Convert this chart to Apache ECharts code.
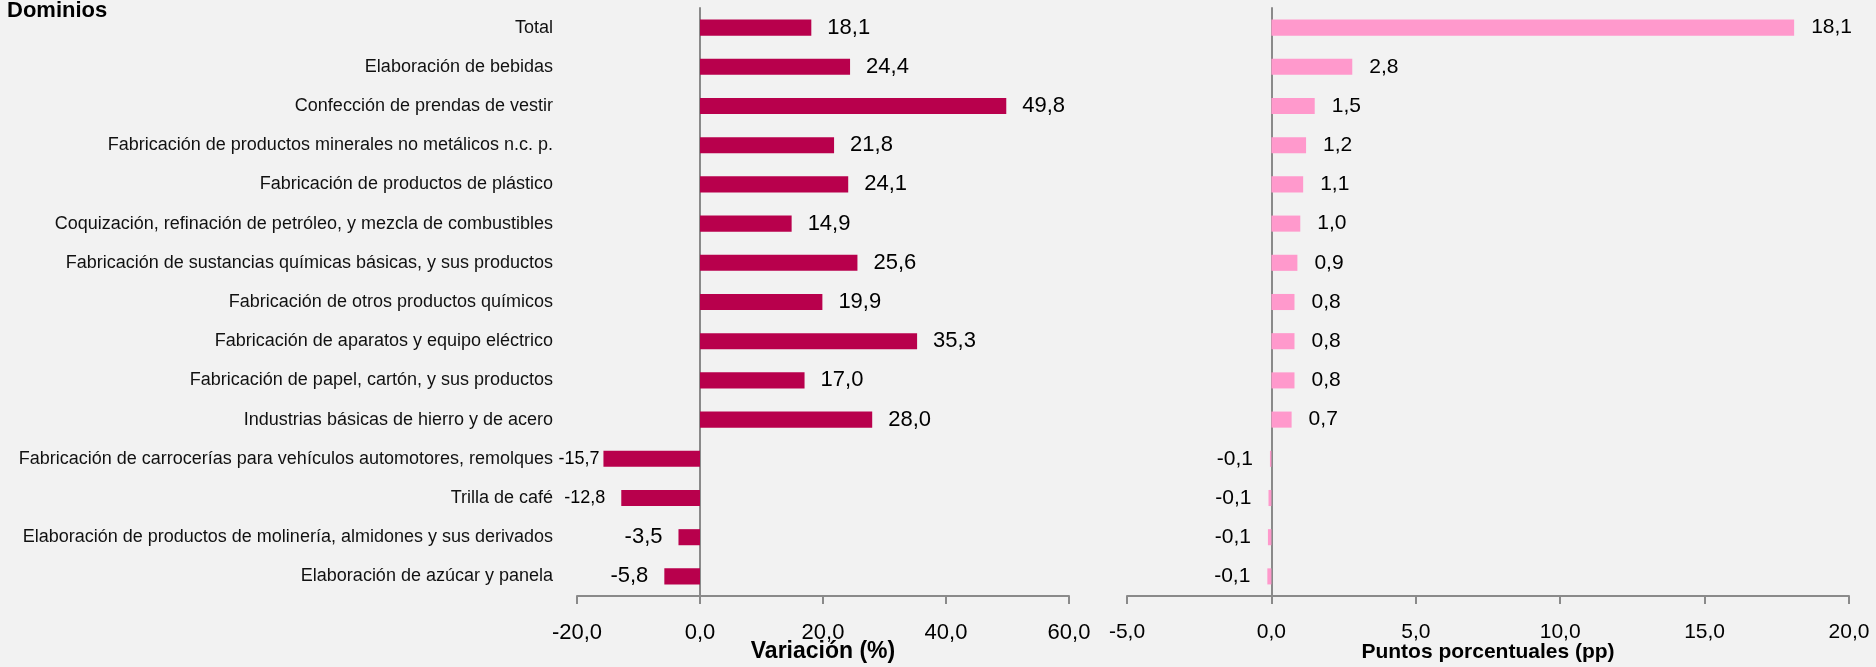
<!DOCTYPE html>
<html><head><meta charset="utf-8">
<script src="https://cdn.jsdelivr.net/npm/echarts@6/dist/echarts.min.js"></script>
<style>html,body{margin:0;padding:0;background:#F2F2F2}#c{width:1876px;height:667px}</style>
</head><body><div id="c"></div>
<script>
const categories = [
  "Total",
  "Elaboración de bebidas",
  "Confección de prendas de vestir",
  "Fabricación de productos minerales no metálicos n.c. p.",
  "Fabricación de productos de plástico",
  "Coquización, refinación de petróleo, y mezcla de combustibles",
  "Fabricación de sustancias químicas básicas, y sus productos",
  "Fabricación de otros productos químicos",
  "Fabricación de aparatos y equipo eléctrico",
  "Fabricación de papel, cartón, y sus productos",
  "Industrias básicas de hierro y de acero",
  "Fabricación de carrocerías para vehículos automotores, remolques",
  "Trilla de café",
  "Elaboración de productos de molinería, almidones y sus derivados",
  "Elaboración de azúcar y panela"
];
const variacion = [18.1, 24.4, 49.8, 21.8, 24.1, 14.9, 25.6, 19.9, 35.3, 17.0, 28.0, -15.7, -12.8, -3.5, -5.8];
const contribucion = [18.1, 2.8, 1.5, 1.2, 1.1, 1.0, 0.9, 0.8, 0.8, 0.8, 0.7, -0.05, -0.1, -0.12, -0.14];
const variacionAxis = { min: -20, max: 60, interval: 20 };
const contribucionAxis = { min: -5, max: 20, interval: 5 };
const titleText = "Dominios";
const variacionName = "Variación (%)";
const contribucionName = "Puntos porcentuales (pp)";

const FONT = "'Liberation Sans', Arial, sans-serif";
const fmt = v => v.toFixed(1).replace('.', ',');

const leftData = variacion.map(v => ({
  value: v,
  label: {
    position: v < 0 ? 'left' : 'right',
    fontSize: v < -10 ? 18 : 22,
    distance: v < -15 ? 4 : 16
  }
}));
const rightData = contribucion.map(v => ({
  value: v,
  label: { position: v < 0 ? 'left' : 'right' }
}));

const axisLineStyle = { color: '#8A8A8A', width: 2 };

const chart = echarts.init(document.getElementById('c'));
chart.setOption({
  backgroundColor: '#F2F2F2',
  animation: false,
  title: {
    text: titleText, left: 7, top: 0, padding: 0,
    textStyle: { fontFamily: FONT, fontWeight: 'bold', fontSize: 22, color: '#000' }
  },
  grid: [
    { left: 577, right: 807, top: 8, bottom: 71, outerBoundsMode: 'none', containLabel: false },
    { left: 1127, right: 27, top: 8, bottom: 71, outerBoundsMode: 'none', containLabel: false }
  ],
  xAxis: [
    {
      gridIndex: 0, type: 'value', ...variacionAxis,
      name: variacionName, nameLocation: 'middle', nameGap: 44, nameMoveOverlap: false,
      nameTextStyle: { fontFamily: FONT, fontWeight: 'bold', fontSize: 23, color: '#000' },
      axisLine: { show: true, onZero: false, lineStyle: axisLineStyle },
      axisTick: { show: true, length: 8, lineStyle: axisLineStyle },
      splitLine: { show: false },
      axisLabel: { formatter: fmt, fontFamily: FONT, fontSize: 22, color: '#000', margin: 26 }
    },
    {
      gridIndex: 1, type: 'value', ...contribucionAxis,
      name: contribucionName, nameLocation: 'middle', nameGap: 46, nameMoveOverlap: false,
      nameTextStyle: { fontFamily: FONT, fontWeight: 'bold', fontSize: 21, color: '#000' },
      axisLine: { show: true, onZero: false, lineStyle: axisLineStyle },
      axisTick: { show: true, length: 8, lineStyle: axisLineStyle },
      splitLine: { show: false },
      axisLabel: { formatter: fmt, fontFamily: FONT, fontSize: 21, color: '#000', margin: 26 }
    }
  ],
  yAxis: [
    {
      gridIndex: 0, type: 'category', data: categories, inverse: true,
      axisLine: { show: true, onZero: true, lineStyle: axisLineStyle },
      axisTick: { show: false },
      axisLabel: { fontFamily: FONT, fontSize: 18, color: '#111', margin: 24 }
    },
    {
      gridIndex: 1, type: 'category', data: categories, inverse: true,
      axisLine: { show: true, onZero: true, lineStyle: axisLineStyle },
      axisTick: { show: false },
      axisLabel: { show: false }
    }
  ],
  series: [
    {
      type: 'bar', xAxisIndex: 0, yAxisIndex: 0, data: leftData, barWidth: '41%',
      itemStyle: { color: '#B8004C' },
      label: { show: true, formatter: p => fmt(p.value), fontFamily: FONT, fontSize: 22, color: '#000', distance: 16 }
    },
    {
      type: 'bar', xAxisIndex: 1, yAxisIndex: 1, data: rightData, barWidth: '41%',
      itemStyle: { color: '#FF99CC' },
      label: { show: true, formatter: p => fmt(p.value), fontFamily: FONT, fontSize: 21, color: '#000', distance: 17 }
    }
  ]
});
</script>
</body></html>
